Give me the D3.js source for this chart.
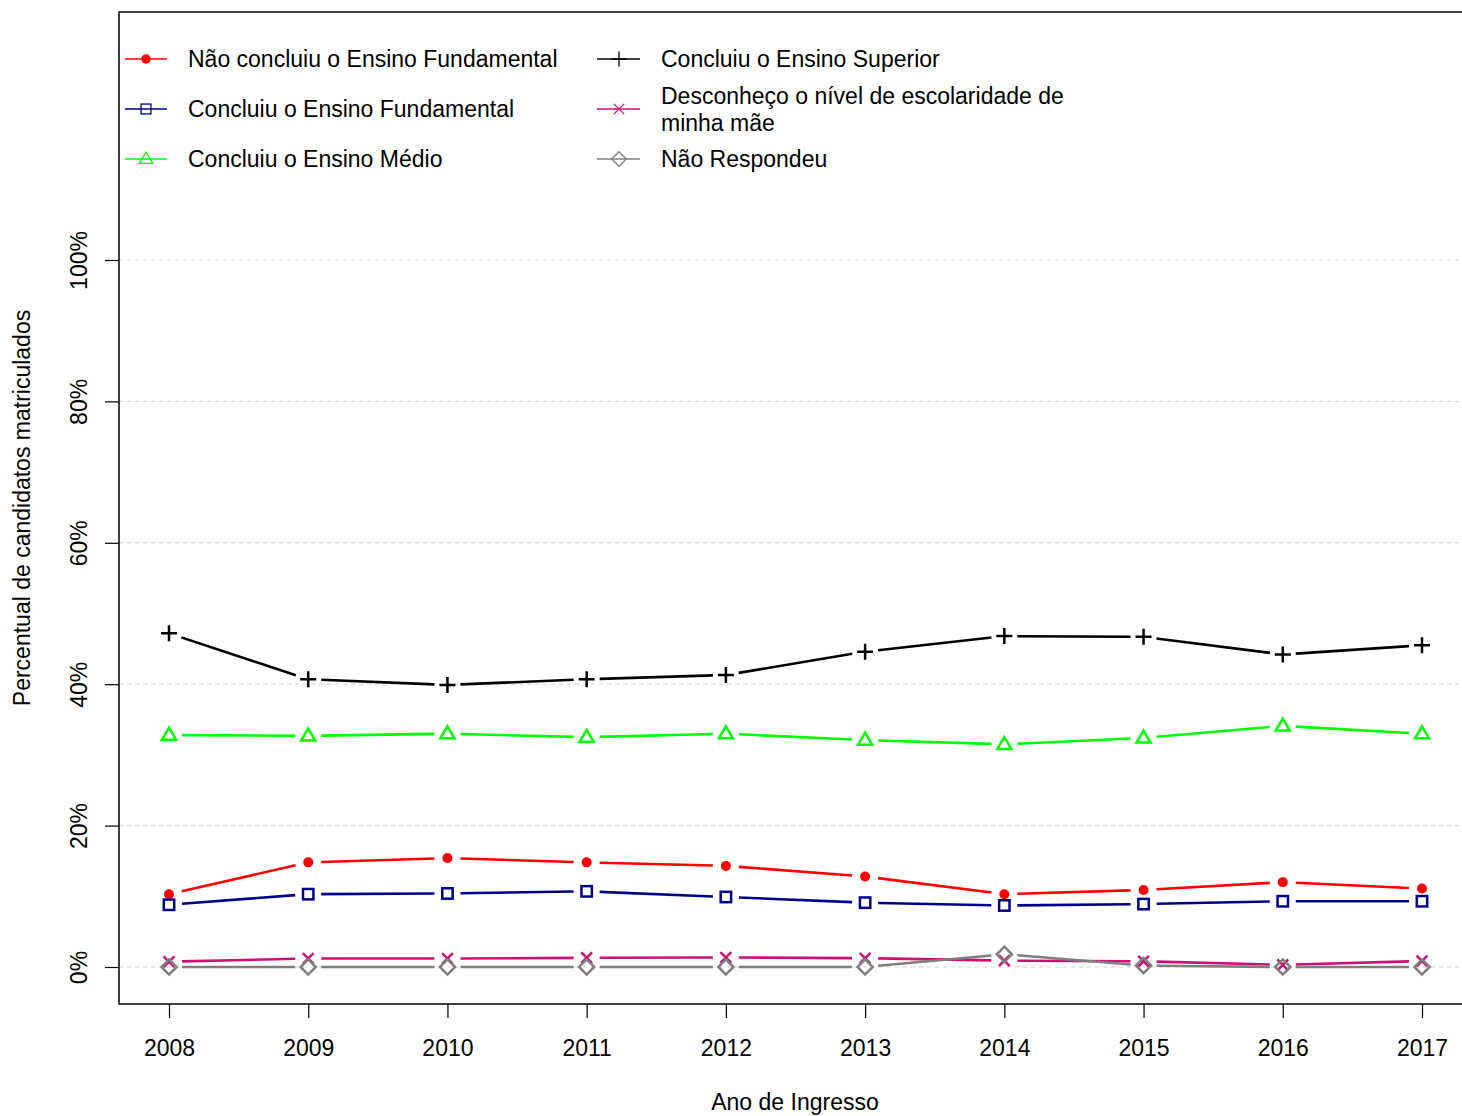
<!DOCTYPE html>
<html><head><meta charset="utf-8">
<script src="https://cdn.jsdelivr.net/npm/d3@7"></script>
<style>body{margin:0;background:#fff}svg{display:block;font-family:"Liberation Sans",Arial,sans-serif}</style>
</head><body><svg id="c" width="1462" height="1116"></svg>
<script>
const years = [2008,2009,2010,2011,2012,2013,2014,2015,2016,2017];
const yTicks = [0,20,40,60,80,100];
const naoConcluiuFund = [10.3,14.8,15.4,14.8,14.3,12.8,10.3,10.9,12.0,11.1];
const concluiuFund = [8.8,10.3,10.4,10.7,9.9,9.1,8.7,8.9,9.3,9.3];
const concluiuMedio = [32.8,32.7,33.0,32.5,33.0,32.1,31.5,32.4,34.1,33.0];
const concluiuSuperior = [47.2,40.7,39.9,40.7,41.3,44.6,46.8,46.7,44.2,45.5];
const desconheco = [0.75,1.2,1.2,1.3,1.35,1.25,0.9,0.8,0.3,0.85];
const naoRespondeu = [0,0,0,0,0,0,1.8,0.2,0,0];
const seriesNames = ["Não concluiu o Ensino Fundamental","Concluiu o Ensino Fundamental","Concluiu o Ensino Médio","Concluiu o Ensino Superior","Desconheço o nível de escolaridade de|minha mãe","Não Respondeu"];

const series = [
  {name:seriesNames[0], values:naoConcluiuFund, color:"#ff0000", shape:"dot"},
  {name:seriesNames[1], values:concluiuFund, color:"#00008b", shape:"square"},
  {name:seriesNames[2], values:concluiuMedio, color:"#00ff00", shape:"tri"},
  {name:seriesNames[3], values:concluiuSuperior, color:"#000000", shape:"plus"},
  {name:seriesNames[4], values:desconheco, color:"#cd1076", shape:"cross"},
  {name:seriesNames[5], values:naoRespondeu, color:"#7f7f7f", shape:"diamond"}
];

const FS = 23;
const svg = d3.select("#c");
const L=119, T=12, B=1004, R=1470;
const x = d3.scalePoint().domain(years).range([169,1422]);
const y = d3.scaleLinear().domain([0,100]).range([967,260]);

// grid
svg.append("g").selectAll("line").data(yTicks).join("line")
  .attr("x1",L).attr("x2",1462).attr("y1",d=>y(d)).attr("y2",d=>y(d))
  .attr("stroke","#d3d3d3").attr("stroke-width",1).attr("stroke-dasharray","4,4");

// box
svg.append("path").attr("d",`M${R},${T}H${L}V${B}H${R}`).attr("fill","none").attr("stroke","#000").attr("stroke-width",1.5);

// axes
const yAxis = d3.axisLeft(y).tickValues(yTicks).tickSize(14).tickFormat(d=>d+"%");
const gy = svg.append("g").attr("transform",`translate(${L},0)`).call(yAxis);
gy.select(".domain").remove();
gy.selectAll("line").attr("stroke","#000").attr("stroke-width",1.2);
gy.selectAll("text").attr("font-size",FS).attr("fill","#000").attr("font-family","Liberation Sans, Arial, sans-serif")
  .attr("text-anchor","middle").attr("x",null).attr("dy",null)
  .attr("transform","translate(-32,0) rotate(-90)");

const xAxis = d3.axisBottom(x).tickSize(14);
const gx = svg.append("g").attr("transform",`translate(0,${B})`).call(xAxis);
gx.select(".domain").remove();
gx.selectAll("line").attr("stroke","#000").attr("stroke-width",1.2);
gx.selectAll("text").attr("font-size",FS).attr("fill","#000").attr("font-family","Liberation Sans, Arial, sans-serif")
  .attr("y",52).attr("dy",null);

svg.append("text").attr("x",795).attr("y",1110).attr("text-anchor","middle").attr("font-size",FS).text("Ano de Ingresso");
svg.append("text").attr("transform","translate(30,508) rotate(-90)").attr("text-anchor","middle").attr("font-size",FS).text("Percentual de candidatos matriculados");

function drawMarker(g, shape, cx, cy, color, s, sw){
  if(shape==="dot") g.append("circle").attr("cx",cx).attr("cy",cy).attr("r",5*s).attr("fill",color);
  else if(shape==="square") g.append("rect").attr("x",cx-5.2*s).attr("y",cy-5.2*s).attr("width",10.4*s).attr("height",10.4*s).attr("fill","none").attr("stroke",color).attr("stroke-width",sw);
  else if(shape==="tri"){ const h=7.4*s; g.append("path").attr("d",`M${cx},${cy-h}L${cx+h*0.95},${cy+h*0.62}L${cx-h*0.95},${cy+h*0.62}Z`).attr("fill","none").attr("stroke",color).attr("stroke-width",sw);}
  else if(shape==="plus"){ const h=8*s; g.append("path").attr("d",`M${cx-h},${cy}H${cx+h}M${cx},${cy-h}V${cy+h}`).attr("stroke",color).attr("stroke-width",sw);}
  else if(shape==="cross"){ const h=5.4*s; g.append("path").attr("d",`M${cx-h},${cy-h}L${cx+h},${cy+h}M${cx-h},${cy+h}L${cx+h},${cy-h}`).attr("stroke",color).attr("stroke-width",sw);}
  else if(shape==="diamond"){ const h=7.6*s; g.append("path").attr("d",`M${cx},${cy-h}L${cx+h},${cy}L${cx},${cy+h}L${cx-h},${cy}Z`).attr("fill","none").attr("stroke",color).attr("stroke-width",sw);}
}

const gap = 13;
series.forEach(s=>{
  const g = svg.append("g");
  const pts = s.values.map((v,i)=>[x(years[i]), y(v)]);
  for(let i=0;i<pts.length-1;i++){
    const [x1,y1]=pts[i],[x2,y2]=pts[i+1];
    const dx=x2-x1, dy=y2-y1, len=Math.hypot(dx,dy);
    const ux=dx/len, uy=dy/len;
    g.append("line").attr("x1",x1+ux*gap).attr("y1",y1+uy*gap).attr("x2",x2-ux*gap).attr("y2",y2-uy*gap)
      .attr("stroke",s.color).attr("stroke-width",2.6);
  }
  pts.forEach(p=>drawMarker(g,s.shape,p[0],p[1],s.color,1,2.5));
});

// legend
const leg = [
  {col:0,row:59},{col:0,row:109},{col:0,row:159},
  {col:1,row:59},{col:1,row:109},{col:1,row:159}
];
const colX = [{l1:125,l2:167,m:146,t:188},{l1:597,l2:640,m:619,t:661}];
series.forEach((s,i)=>{
  const c = colX[leg[i].col], yy = leg[i].row;
  const g = svg.append("g");
  g.append("line").attr("x1",c.l1).attr("x2",c.l2).attr("y1",yy).attr("y2",yy).attr("stroke",s.color).attr("stroke-width",1.3);
  drawMarker(g,s.shape,c.m,yy,s.color,0.95,1.3);
  const lines = s.name.split("|");
  const t = g.append("text").attr("font-size",FS).attr("x",c.t);
  lines.forEach((ln,k)=>{
    t.append("tspan").attr("x",c.t).attr("y", yy + 8 - (lines.length-1)*13.5 + k*27).text(ln);
  });
});
</script></body></html>
